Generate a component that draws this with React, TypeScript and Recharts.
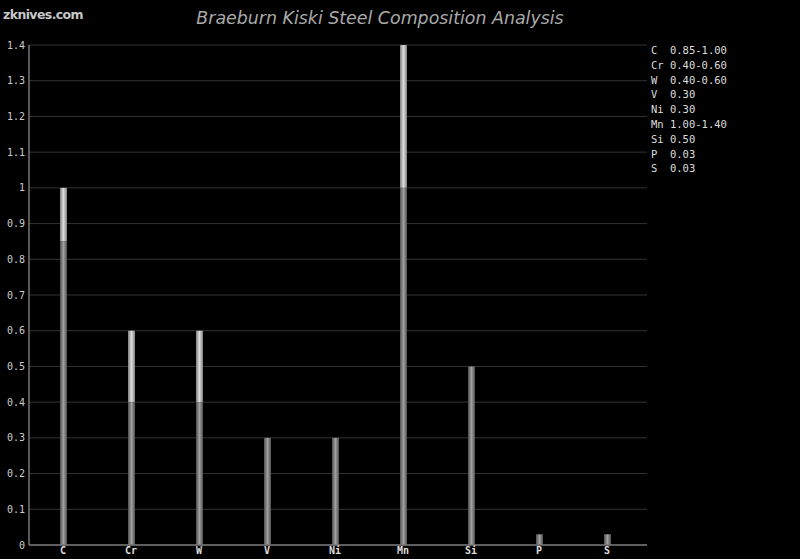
import React from 'react';
import { BarChart, Bar, XAxis, YAxis, CartesianGrid } from 'recharts';

const elements = ['C', 'Cr', 'W', 'V', 'Ni', 'Mn', 'Si', 'P', 'S'];
const minValues = [0.85, 0.4, 0.4, 0.3, 0.3, 1.0, 0.5, 0.03, 0.03];
const maxValues = [1.0, 0.6, 0.6, 0.3, 0.3, 1.4, 0.5, 0.03, 0.03];
const rangeLabels = ['0.85-1.00', '0.40-0.60', '0.40-0.60', '0.30', '0.30', '1.00-1.40', '0.50', '0.03', '0.03'];
const yTicks = [0, 0.1, 0.2, 0.3, 0.4, 0.5, 0.6, 0.7, 0.8, 0.9, 1, 1.1, 1.2, 1.3, 1.4];

const data = elements.map((e, i) => ({
  name: e,
  low: minValues[i],
  high: Math.round((maxValues[i] - minValues[i]) * 100) / 100,
}));

const mono = '"DejaVu Sans Mono", monospace';

export default function App() {
  return (
    <div style={{ position: 'absolute', left: 0, top: 0, width: 800, height: 559, background: '#000', overflow: 'hidden' }}>
      <div style={{ position: 'absolute', left: 3, top: 6, color: '#c8c8c8', fontFamily: '"DejaVu Sans", sans-serif', fontWeight: 'bold', fontSize: 12.5, letterSpacing: -0.6, lineHeight: '18px' }}>
        zknives.com
      </div>
      <div style={{ position: 'absolute', left: 0, width: 760, top: 7, textAlign: 'center', color: '#aaaaaa', fontFamily: '"DejaVu Sans", sans-serif', fontStyle: 'italic', fontSize: 17.4, lineHeight: '22px' }}>
        Braeburn Kiski Steel Composition Analysis
      </div>
      <div style={{ position: 'absolute', left: 651, top: 43, color: '#dddddd', fontFamily: mono, fontSize: 10.5, lineHeight: '14.8px', whiteSpace: 'pre' }}>
        {elements.map((e, i) => (
          <div key={e}>{e.padEnd(3, ' ')}{rangeLabels[i]}</div>
        ))}
      </div>
      <BarChart
        width={800}
        height={559}
        data={data}
        margin={{ top: 45, right: 153, bottom: 0, left: 0 }}
        style={{ position: 'absolute', left: 0, top: 0 }}
      >
        <defs>
          <linearGradient id="gLow" x1="0" y1="0" x2="1" y2="0">
            <stop offset="0%" stopColor="#505050" />
            <stop offset="50%" stopColor="#a0a0a0" />
            <stop offset="100%" stopColor="#505050" />
          </linearGradient>
          <linearGradient id="gHigh" x1="0" y1="0" x2="1" y2="0">
            <stop offset="0%" stopColor="#808080" />
            <stop offset="50%" stopColor="#dcdcdc" />
            <stop offset="100%" stopColor="#808080" />
          </linearGradient>
        </defs>
        <CartesianGrid vertical={false} stroke="#333333" strokeWidth={1} />
        <XAxis
          dataKey="name"
          height={14}
          tickLine={false}
          tickSize={0}
          tickMargin={2}
          padding={{ left: 0, right: 6 }}
          axisLine={{ stroke: '#777777', strokeWidth: 1.5 }}
          tick={{ fill: '#dddddd', fontFamily: mono, fontSize: 10, fontWeight: 'bold' }}
          interval={0}
        />
        <YAxis
          width={29}
          domain={[0, 1.4]}
          ticks={yTicks}
          tickLine={false}
          tickSize={0}
          tickMargin={4}
          axisLine={{ stroke: '#777777', strokeWidth: 1.5 }}
          tick={{ fill: '#cccccc', fontFamily: mono, fontSize: 10 }}
          tickFormatter={(v: number) => String(Math.round(v * 10) / 10)}
          interval={0}
        />
        <Bar dataKey="low" stackId="a" barSize={7} fill="url(#gLow)" isAnimationActive={false} />
        <Bar dataKey="high" stackId="a" barSize={7} fill="url(#gHigh)" isAnimationActive={false} />
      </BarChart>
    </div>
  );
}
